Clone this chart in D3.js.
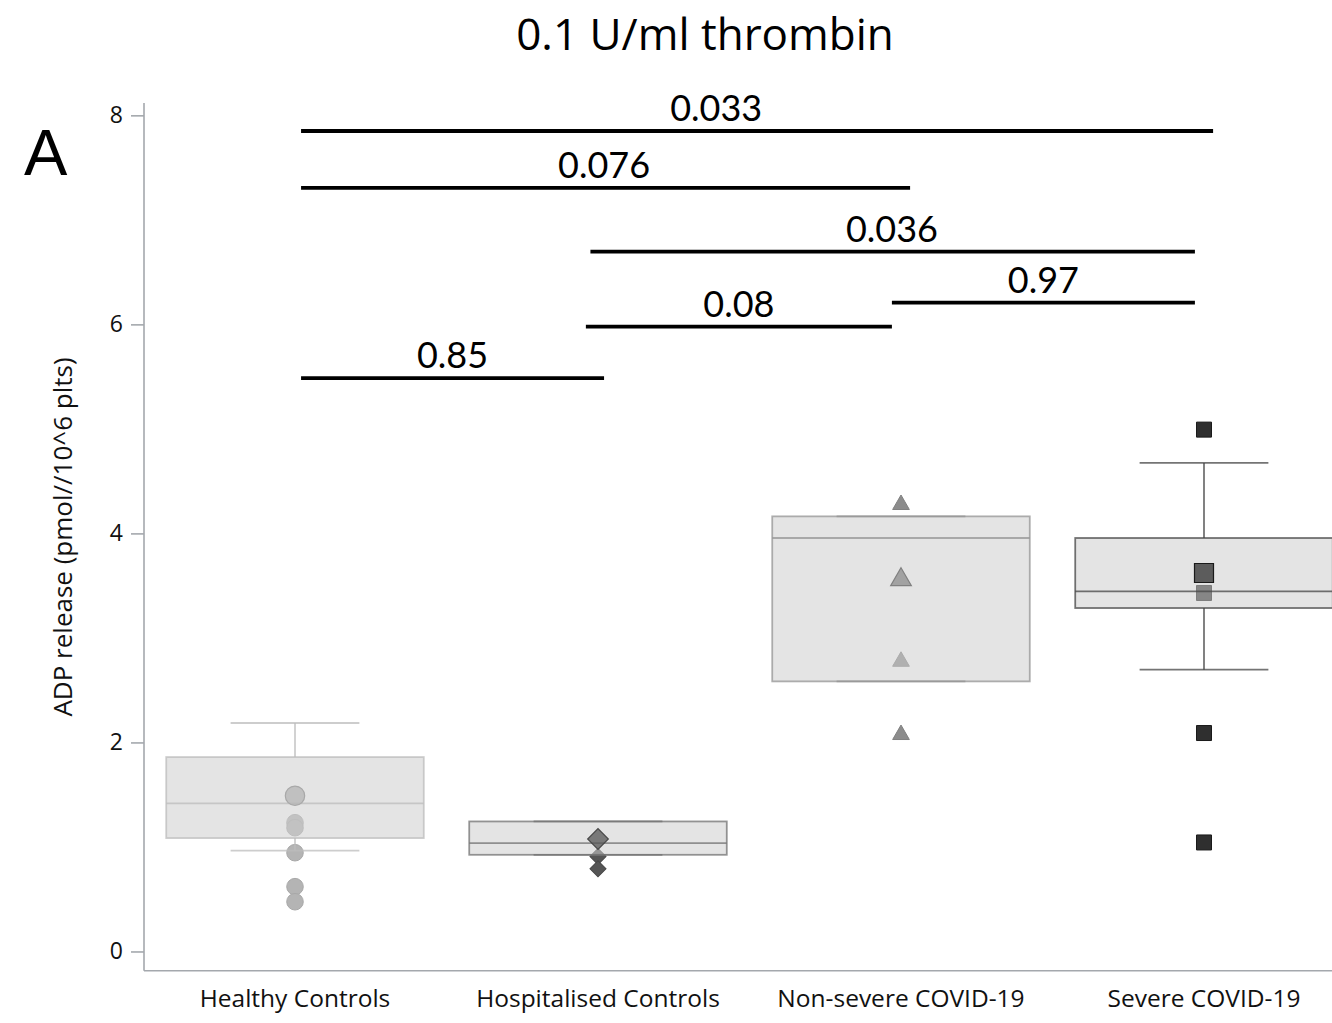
<!DOCTYPE html>
<html>
<head>
<meta charset="utf-8">
<script src="https://cdn.jsdelivr.net/npm/d3@7"></script>
<style>
  html, body { margin: 0; padding: 0; background: #fff; }
  svg { display: block; }
</style>
</head>
<body>
<svg id="chart" width="1332" height="1023"></svg>
<script>
// ---------------- DATA ----------------
const categories = ["Healthy Controls", "Hospitalised Controls", "Non-severe COVID-19", "Severe COVID-19"];
const q1 = [1.085, 0.925, 2.584, 3.286];
const median = [1.416, 1.037, 3.956, 3.445];
const q3 = [1.860, 1.244, 4.163, 3.956];
const whiskerLow = [0.964, 0.925, 2.584, 2.696];
const whiskerHigh = [2.186, 1.244, 4.163, 4.674];

const pointsHealthy = [1.49, 1.49, 1.232, 1.184, 0.945, 0.62, 0.476];
const pointsHospitalised = [1.076, 1.076, 0.909, 0.791];
const pointsNonSevere = [4.275, 3.557, 3.557, 2.775, 2.074];
const pointsSevere = [4.993, 3.621, 3.621, 3.43, 2.09, 1.043];
const groupPoints = [pointsHealthy, pointsHospitalised, pointsNonSevere, pointsSevere];

const yTicks = [0, 2, 4, 6, 8];

const annotLabels = ["0.033", "0.076", "0.036", "0.97", "0.08", "0.85"];
const annotY = [7.85, 7.305, 6.696, 6.208, 5.978, 5.485];
const annotFrom = [0.02, 0.02, 0.975, 1.97, 0.96, 0.02];
const annotTo = [3.03, 2.03, 2.97, 2.97, 1.97, 1.02];
const annotLabelAt = [1.39, 1.02, 1.97, 2.47, 1.465, 0.52];

const titleText = "0.1 U/ml thrombin";
const yLabelText = "ADP release (pmol//10^6 plts)";
const panelLetter = "A";

// ---------------- STYLE ----------------
const groupStyle = [
  { symbol: d3.symbolCircle, size: 216, sizeBig: 296, rotate: 0, fill: "#b4b4b4", stroke: "#a8a8a8", line: "#bcbcbc" },
  { symbol: d3.symbolSquare, size: 128, sizeBig: 212, rotate: 45, fill: "#555555", stroke: "#474747", line: "#737373" },
  { symbol: d3.symbolTriangle, size: 121, sizeBig: 185, rotate: 0, fill: "#8c8c8c", stroke: "#808080", line: "#949494" },
  { symbol: d3.symbolSquare, size: 225, sizeBig: 361, rotate: 0, fill: "#2f2f2f", stroke: "#1a1a1a", line: "#454545" }
];
const sansFont = "'Open Sans', 'Noto Sans', sans-serif";
const annotFont = "Lato, 'Open Sans', sans-serif";

// ---------------- LAYOUT ----------------
const svg = d3.select("#chart");
const axisLeftX = 144, axisTopY = 103, axisBottomY = 970.7;

const x = d3.scaleBand().domain(categories).range([143.5, 1355.5]).paddingInner(0).paddingOuter(0);
const step = x.bandwidth();
const cx = c => x(c) + step / 2;
const xi = d3.scaleLinear().domain([0, 1]).range([cx(categories[0]), cx(categories[1])]);
const y = d3.scaleLinear().domain([-0.184, 8.118]).range([axisBottomY, axisTopY]);

const boxW = step * 0.85;
const capW = boxW / 2;

// Title
svg.append("text")
  .attr("x", 705).attr("y", 50)
  .attr("text-anchor", "middle")
  .style("font-family", sansFont).style("font-size", "44px").style("fill", "#000")
  .text(titleText);

// Panel letter
svg.append("text")
  .attr("x", 24).attr("y", 175)
  .style("font-family", "'Liberation Sans', Arial, sans-serif").style("font-size", "65px").style("fill", "#000")
  .text(panelLetter);

// Y axis
const yAxis = d3.axisLeft(y).tickValues(yTicks).tickSize(13).tickPadding(8).tickFormat(d3.format("d"));
const gy = svg.append("g").attr("transform", `translate(${axisLeftX},0)`).call(yAxis);
gy.select(".domain").remove();
gy.selectAll(".tick line").attr("stroke", "#a4a8ad").attr("stroke-width", 1.6);
gy.selectAll(".tick text").style("font-family", sansFont).style("font-size", "23px").style("fill", "#111");
svg.append("line").attr("x1", axisLeftX).attr("x2", axisLeftX).attr("y1", axisTopY).attr("y2", axisBottomY)
  .attr("stroke", "#a4a8ad").attr("stroke-width", 1.6);

// X axis
const xAxis = d3.axisBottom(x).tickSize(0).tickPadding(19);
const gx = svg.append("g").attr("transform", `translate(0,${axisBottomY})`).call(xAxis);
gx.select(".domain").remove();
gx.selectAll(".tick text").style("font-family", sansFont).style("font-size", "24.5px").style("fill", "#111");
svg.append("line").attr("x1", axisLeftX).attr("x2", 1332).attr("y1", axisBottomY).attr("y2", axisBottomY)
  .attr("stroke", "#a4a8ad").attr("stroke-width", 1.6);

// Y label
svg.append("text")
  .attr("transform", `translate(72,537) rotate(-90)`)
  .attr("text-anchor", "middle")
  .style("font-family", sansFont).style("font-size", "26px").style("fill", "#111")
  .text(yLabelText);

// Points & boxes
const plot = svg.append("g");
categories.forEach((cat, i) => {
  const st = groupStyle[i];
  const vals = groupPoints[i];
  const counts = d3.rollup(vals, v => v.length, d => d);
  const singles = Array.from(counts).filter(d => d[1] === 1).map(d => d[0]);
  const multiples = Array.from(counts).filter(d => d[1] > 1).map(d => d[0]);
  const g = plot.append("g");
  const sym = d3.symbol().type(st.symbol);

  // single points (beneath the translucent box)
  g.selectAll("path.single").data(singles).join("path")
    .attr("class", "single")
    .attr("d", sym.size(st.size)())
    .attr("transform", d => `translate(${cx(cat)},${y(d)}) rotate(${st.rotate})`)
    .attr("fill", st.fill).attr("stroke", st.stroke).attr("stroke-width", 1);

  // box
  const bx = cx(cat) - boxW / 2;
  g.append("rect")
    .attr("x", bx).attr("y", y(q3[i]))
    .attr("width", boxW).attr("height", y(q1[i]) - y(q3[i]))
    .attr("fill", "#cdcdcd").attr("fill-opacity", 0.55)
    .attr("stroke", st.line).attr("stroke-opacity", 0.75).attr("stroke-width", 1.8);
  g.append("line")
    .attr("x1", bx).attr("x2", bx + boxW).attr("y1", y(median[i])).attr("y2", y(median[i]))
    .attr("stroke", st.line).attr("stroke-opacity", 0.75).attr("stroke-width", 1.8);
  // whiskers
  [[q3[i], whiskerHigh[i]], [q1[i], whiskerLow[i]]].forEach(([a, b]) => {
    if (Math.abs(a - b) > 1e-9) {
      g.append("line").attr("x1", cx(cat)).attr("x2", cx(cat)).attr("y1", y(a)).attr("y2", y(b))
        .attr("stroke", st.line).attr("stroke-opacity", 0.75).attr("stroke-width", 1.8);
    }
    g.append("line").attr("x1", cx(cat) - capW / 2).attr("x2", cx(cat) + capW / 2).attr("y1", y(b)).attr("y2", y(b))
      .attr("stroke", st.line).attr("stroke-opacity", 0.75).attr("stroke-width", 1.8);
  });

  // repeated points (drawn on top, larger)
  g.selectAll("path.multi").data(multiples).join("path")
    .attr("class", "multi")
    .attr("d", sym.size(st.sizeBig)())
    .attr("transform", d => `translate(${cx(cat)},${y(d)}) rotate(${st.rotate})`)
    .attr("fill", st.fill).attr("fill-opacity", 0.75)
    .attr("stroke", st.stroke).attr("stroke-width", 1.2);
});

// Significance annotations
const ann = svg.append("g");
annotLabels.forEach((lab, k) => {
  ann.append("line")
    .attr("x1", xi(annotFrom[k])).attr("x2", xi(annotTo[k]))
    .attr("y1", y(annotY[k])).attr("y2", y(annotY[k]))
    .attr("stroke", "#000").attr("stroke-width", 3.8);
  ann.append("text")
    .attr("x", xi(annotLabelAt[k])).attr("y", y(annotY[k]) - 10)
    .attr("text-anchor", "middle")
    .style("font-family", annotFont).style("font-size", "36px").style("fill", "#000")
    .text(lab);
});
</script>
</body>
</html>
